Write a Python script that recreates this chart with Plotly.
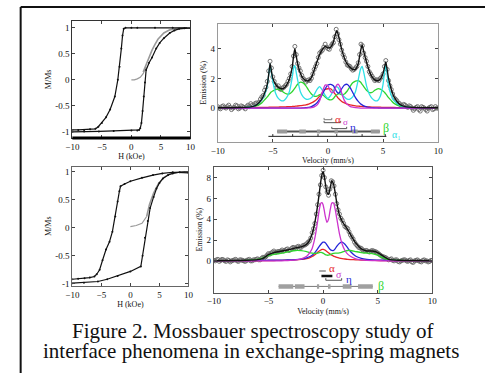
import plotly.graph_objects as go

# ---------------- hysteresis loops (top-left) ----------------
tl_desc_H = [10, 7, 4, 1, 0, -1, -1.3, -1.5, -1.7, -2.0, -2.3, -2.8, -3.6, -4.3, -5.0, -5.6, -6.1, -7, -8, -9, -10]
tl_desc_M = [1.0, 1.0, 1.0, 1.0, 1.0, 1.0, 0.98, 0.85, 0.6, 0.25, 0.0, -0.32, -0.57, -0.72, -0.83, -0.9, -0.94, -0.95, -0.96, -0.96, -0.96]
tl_asc_H = [-10, -8, -5.5, -3, 0, 1.0, 1.3, 1.5, 1.7, 1.9, 2.1, 2.3, 2.5, 3.0, 3.5, 4.2, 4.8, 5.5, 6.5, 7.3, 8.1, 9, 10]
tl_asc_M = [-1.0, -0.99, -0.99, -0.98, -0.97, -0.97, -0.96, -0.93, -0.83, -0.6, -0.32, -0.05, 0.19, 0.33, 0.43, 0.6, 0.71, 0.8, 0.9, 0.95, 0.98, 0.99, 1.0]
tl_ret_H = [2.0, 2.5, 3.0, 3.5, 4.0, 4.5, 5.5, 6.5, 8, 10]
tl_ret_M = [0.15, 0.3, 0.45, 0.57, 0.68, 0.78, 0.9, 0.96, 0.99, 1.0]
tl_init_H = [0, 0.5, 1.0, 1.5, 2.0, 2.5]
tl_init_M = [0.0, 0.0, 0.02, 0.05, 0.12, 0.25]

# ---------------- hysteresis loops (bottom-left) ----------------
bl_desc_H = [10, 7.3, 5.5, 3.9, 2, 0, -1, -1.7, -1.9, -2.2, -2.6, -3.1, -3.6, -4.2, -4.8, -5.3, -5.8, -6.2, -7, -7.9, -9, -10]
bl_desc_M = [0.98, 0.99, 0.97, 0.94, 0.89, 0.83, 0.78, 0.74, 0.65, 0.47, 0.2, -0.07, -0.25, -0.39, -0.58, -0.75, -0.83, -0.87, -0.89, -0.9, -0.91, -0.92]
bl_asc_H = [-10, -8, -5.6, -4, -2.2, 0, 1.8, 2.1, 2.5, 3.0, 3.4, 4.0, 4.5, 5.0, 5.6, 6.5, 7.3, 8.5, 10]
bl_asc_M = [-0.99, -0.98, -0.96, -0.92, -0.86, -0.78, -0.69, -0.5, -0.18, 0.12, 0.35, 0.55, 0.7, 0.8, 0.88, 0.94, 0.97, 0.99, 1.0]
bl_ret_H = [2.8, 3.3, 4.0, 4.8, 5.8, 7.0, 8.5, 10]
bl_ret_M = [0.2, 0.42, 0.62, 0.78, 0.9, 0.97, 1.0, 1.0]
bl_init_H = [0, 1, 2, 2.5, 2.8]
bl_init_M = [0.02, 0.04, 0.08, 0.15, 0.2]

# ---------------- Mossbauer spectrum (top-right) ----------------
tr_v = [-10, -8, -7, -6.5, -6, -5.75, -5.5, -5.35, -5.25, -5.15, -5, -4.75, -4.5, -4.25, -4,
        -3.75, -3.5, -3.25, -3.1, -3.0, -2.9, -2.75, -2.5, -2.25, -2, -1.75, -1.5, -1.25, -1, -0.75,
        -0.5, -0.25, 0, 0.25, 0.5, 0.65, 0.8, 0.95, 1.1, 1.25, 1.5, 1.75, 2, 2.25, 2.5,
        2.75, 2.95, 3.1, 3.25, 3.5, 3.75, 4, 4.25, 4.5, 4.75, 5, 5.15, 5.25, 5.35, 5.5,
        5.75, 6, 6.5, 7, 8, 10]
tr_total = [0.02, 0.04, 0.08, 0.2, 0.6, 1.0, 1.6, 2.4, 3.0, 2.6, 2.0, 1.6, 1.4, 1.3, 1.35,
            1.55, 1.95, 2.7, 3.6, 4.0, 3.6, 3.0, 2.35, 2.0, 1.85, 1.85, 2.05, 2.55, 3.1, 3.6,
            3.95, 4.15, 4.05, 4.1, 4.45, 4.9, 5.2, 4.9, 4.4, 3.95, 3.35, 2.95, 2.75, 2.6, 2.6,
            3.0, 3.8, 4.25, 3.8, 3.1, 2.5, 2.1, 1.9, 1.85, 1.95, 2.35, 2.8, 3.1, 2.7, 2.0,
            1.25, 0.75, 0.25, 0.1, 0.04, 0.02]
tr_alpha1 = [0, 0.02, 0.08, 0.2, 0.55, 0.9, 1.5, 2.4, 2.95, 2.5, 1.8, 1.0, 0.65, 0.5, 0.5,
             0.7, 1.1, 2.0, 2.75, 2.85, 2.5, 1.9, 1.1, 0.75, 0.6, 0.6, 0.7, 0.9, 1.25, 1.45,
             1.2, 0.85, 0.65, 0.85, 1.2, 1.4, 1.45, 1.35, 1.15, 0.95, 0.75, 0.6, 0.6, 0.75, 1.1,
             1.9, 2.6, 2.8, 2.4, 1.5, 0.95, 0.65, 0.5, 0.5, 0.8, 1.6, 2.5, 2.9, 2.4, 1.5,
             0.85, 0.5, 0.2, 0.08, 0.02, 0]
tr_beta = [0, 0.02, 0.06, 0.15, 0.35, 0.55, 0.75, 0.9, 1.0, 1.08, 1.15, 1.25, 1.28, 1.2, 1.05,
           0.95, 0.95, 1.1, 1.25, 1.35, 1.45, 1.6, 1.75, 1.7, 1.5, 1.2, 0.95, 0.8, 0.8, 0.9,
           0.9, 0.75, 0.6, 0.55, 0.65, 0.8, 0.9, 0.95, 0.95, 0.9, 0.95, 1.15, 1.45, 1.7, 1.82,
           1.85, 1.75, 1.6, 1.45, 1.2, 1.05, 1.05, 1.2, 1.3, 1.28, 1.15, 1.05, 0.95, 0.85, 0.7,
           0.5, 0.32, 0.14, 0.06, 0.02, 0]
tr_eta = [0, 0, 0, 0, 0, 0, 0, 0, 0, 0, 0, 0, 0, 0, 0,
          0, 0, 0, 0, 0, 0, 0, 0, 0.01, 0.03, 0.05, 0.1, 0.2, 0.35, 0.6,
          0.95, 1.3, 1.55, 1.6, 1.5, 1.3, 1.1, 1.0, 1.1, 1.3, 1.55, 1.6, 1.4, 1.05, 0.7,
          0.45, 0.3, 0.22, 0.15, 0.08, 0.05, 0.03, 0.02, 0.01, 0, 0, 0, 0, 0, 0,
          0, 0, 0, 0, 0, 0]
tr_sigma = [0, 0, 0, 0, 0, 0, 0, 0, 0, 0, 0, 0, 0, 0, 0,
            0, 0, 0, 0, 0, 0, 0, 0, 0, 0, 0.01, 0.03, 0.08, 0.2, 0.5,
            1.1, 1.55, 1.5, 1.1, 1.05, 1.3, 1.55, 1.6, 1.4, 1.0, 0.5, 0.25, 0.12, 0.06, 0.03,
            0.01, 0, 0, 0, 0, 0, 0, 0, 0, 0, 0, 0, 0, 0, 0,
            0, 0, 0, 0, 0, 0]
tr_alpha = [0.01, 0.02, 0.03, 0.04, 0.05, 0.05, 0.05, 0.06, 0.06, 0.06, 0.06, 0.07, 0.07, 0.08, 0.08,
            0.09, 0.1, 0.11, 0.12, 0.12, 0.13, 0.14, 0.16, 0.19, 0.22, 0.27, 0.35, 0.45, 0.6, 0.8,
            1.05, 1.25, 1.3, 1.3, 1.1, 0.95, 0.8, 0.65, 0.55, 0.45, 0.35, 0.27, 0.22, 0.18, 0.15,
            0.13, 0.12, 0.11, 0.1, 0.09, 0.08, 0.07, 0.07, 0.06, 0.06, 0.05, 0.05, 0.05, 0.05, 0.05,
            0.04, 0.04, 0.03, 0.03, 0.02, 0.01]

# measured channels: -10 ... 10 mm/s in 0.125 mm/s steps
channel_v = [round(-10 + 0.125 * i, 3) for i in range(161)]
tr_data = [0.1, 0.0, -0.05, 0.1, 0.15, 0.05, 0.0, 0.1,
           0.2, 0.05, -0.1, 0.0, 0.05, 0.2, 0.15, -0.05,
           0.0, 0.15, 0.1, 0.05, -0.05, 0.1, 0.2, 0.1,
           0.3, 0.2, 0.15, 0.3, 0.35, 0.3, 0.4, 0.6,
           0.75, 0.85, 1.2, 1.4, 1.8, 2.5, 3.15, 2.7,
           2.1, 1.8, 1.55, 1.4, 1.5, 1.3, 1.25, 1.35,
           1.4, 1.5, 1.6, 1.8, 2.0, 2.3, 2.8, 3.5,
           4.15, 3.6, 3.0, 2.7, 2.5, 2.2, 2.0, 1.9,
           1.75, 1.85, 1.9, 1.85, 2.0, 2.3, 2.6, 2.8,
           3.0, 3.4, 3.7, 3.8, 3.9, 4.1, 4.3, 4.1,
           4.0, 3.95, 4.15, 4.3, 4.4, 4.8, 5.3, 5.0,
           4.6, 4.3, 3.9, 3.6, 3.4, 3.1, 2.9, 2.85,
           2.8, 2.65, 2.55, 2.6, 2.7, 2.8, 3.05, 3.6,
           4.3, 4.2, 3.7, 3.4, 3.15, 2.8, 2.45, 2.3,
           2.15, 2.0, 1.85, 1.9, 1.9, 1.85, 2.0, 2.1,
           2.3, 2.8, 3.2, 2.6, 1.85, 1.5, 1.25, 0.95,
           0.7, 0.6, 0.5, 0.35, 0.3, 0.2, 0.15, 0.25,
           0.2, 0.1, 0.05, 0.15, 0.1, 0.0, -0.15, -0.05,
           0.05, 0.1, -0.1, -0.2, 0.1, 0.05, 0.0, -0.1,
           -0.2, 0.0, 0.05, 0.1, -0.1, -0.05, 0.1, 0.0,
           0.0]

# ---------------- Mossbauer spectrum (bottom-right) ----------------
br_v = [-10, -8, -7, -6, -5.5, -5, -4.5, -4, -3.5, -3, -2.5, -2, -1.5, -1.25, -1,
        -0.75, -0.5, -0.35, -0.2, -0.1, 0, 0.1, 0.2, 0.35, 0.5, 0.65, 0.8, 0.95, 1.1, 1.25,
        1.5, 1.75, 2, 2.25, 2.5, 3, 3.5, 4, 4.5, 5, 5.5, 6, 7, 8, 10]
br_total = [0.02, 0.04, 0.06, 0.12, 0.25, 0.6, 0.8, 0.9, 1.0, 1.1, 1.25, 1.35, 1.6, 1.95, 2.6,
            3.7, 5.3, 6.5, 7.7, 8.3, 8.6, 8.2, 7.5, 6.6, 6.4, 7.0, 7.7, 7.4, 6.6, 5.6,
            4.4, 3.8, 3.4, 3.0, 2.55, 1.7, 1.15, 0.95, 0.95, 0.8, 0.45, 0.15, 0.06, 0.04, 0.02]
br_sigma = [0, 0, 0, 0, 0, 0, 0, 0, 0.02, 0.05, 0.1, 0.2, 0.45, 0.75, 1.2,
            2.2, 3.8, 4.9, 5.55, 5.6, 5.4, 4.9, 4.3, 3.7, 4.0, 4.9, 5.55, 5.55, 5.0, 4.1,
            2.6, 1.6, 1.0, 0.65, 0.45, 0.2, 0.1, 0.05, 0.03, 0.02, 0.01, 0, 0, 0, 0]
br_eta = [0, 0.02, 0.03, 0.05, 0.05, 0.06, 0.06, 0.07, 0.08, 0.1, 0.12, 0.18, 0.3, 0.4, 0.55,
          0.8, 1.15, 1.4, 1.6, 1.72, 1.8, 1.8, 1.75, 1.55, 1.3, 1.1, 1.0, 1.0, 1.15, 1.4,
          1.7, 1.8, 1.6, 1.25, 0.9, 0.45, 0.25, 0.15, 0.1, 0.08, 0.06, 0.05, 0.03, 0.02, 0]
br_alpha = [0.01, 0.02, 0.02, 0.03, 0.03, 0.04, 0.04, 0.05, 0.06, 0.08, 0.1, 0.14, 0.22, 0.3, 0.42,
            0.6, 0.82, 0.95, 1.05, 1.1, 1.1, 1.08, 1.02, 0.9, 0.78, 0.65, 0.55, 0.46, 0.4, 0.34,
            0.27, 0.22, 0.18, 0.15, 0.13, 0.1, 0.08, 0.06, 0.05, 0.04, 0.04, 0.03, 0.02, 0.02, 0.01]
br_beta = [0.0, 0.02, 0.05, 0.15, 0.3, 0.5, 0.62, 0.7, 0.8, 0.92, 1.0, 0.98, 0.88, 0.8, 0.75,
           0.72, 0.75, 0.8, 0.82, 0.8, 0.75, 0.68, 0.6, 0.55, 0.55, 0.6, 0.68, 0.72, 0.75, 0.75,
           0.78, 0.85, 0.95, 1.0, 1.0, 0.9, 0.8, 0.75, 0.7, 0.55, 0.3, 0.12, 0.04, 0.02, 0]
br_data = [0.05, 0.0, 0.1, 0.15, -0.05, 0.05, 0.15, 0.1,
           0.0, -0.05, 0.1, 0.05, -0.1, 0.0, 0.05, 0.1,
           0.15, 0.0, -0.05, 0.1, 0.1, 0.05, 0.0, -0.05,
           0.05, 0.1, 0.15, 0.0, 0.0, 0.1, 0.1, 0.15,
           0.2, 0.1, 0.1, 0.25, 0.35, 0.3, 0.4, 0.55,
           0.7, 0.65, 0.75, 0.85, 0.95, 0.8, 0.85, 0.9,
           0.9, 0.95, 1.05, 0.95, 1.0, 1.1, 1.15, 1.0,
           1.05, 1.2, 1.3, 1.25, 1.2, 1.35, 1.4, 1.3,
           1.3, 1.45, 1.5, 1.55, 1.65, 1.8, 1.9, 2.2,
           2.7, 3.1, 3.6, 4.5, 5.4, 6.4, 7.3, 8.2,
           8.7, 8.0, 7.1, 6.6, 6.3, 6.9, 7.7, 7.6,
           7.2, 6.4, 5.5, 4.9, 4.5, 4.1, 3.9, 3.6,
           3.3, 3.2, 3.1, 2.8, 2.5, 2.3, 2.1, 1.8,
           1.6, 1.45, 1.3, 1.25, 1.2, 1.05, 0.95, 1.0,
           1.0, 0.9, 0.85, 0.95, 1.0, 0.95, 0.9, 0.85,
           0.75, 0.65, 0.55, 0.45, 0.4, 0.35, 0.3, 0.2,
           0.1, 0.15, 0.2, 0.05, 0.0, 0.1, 0.1, -0.05,
           -0.1, 0.0, 0.05, 0.1, 0.1, 0.0, -0.05, 0.05,
           0.1, -0.1, -0.15, 0.0, 0.05, 0.1, 0.0, -0.05,
           -0.1, 0.05, 0.1, 0.0, 0.0, -0.1, -0.05, 0.05,
           0.05]

# stick-diagram extents (velocity) and levels (emission units)
tr_alpha_bar = [-0.35, 0.35]; tr_alpha_lvl = -0.78
tr_sigma_bar = [-0.35, 1.15]; tr_sigma_lvl = -0.98
tr_eta_bar = [0.35, 1.7]; tr_eta_lvl = -1.38
tr_beta_bar = [-4.6, 4.7]; tr_beta_lvl = -1.58
tr_beta_blocks = [[-4.6, -3.7], [-2.6, -2.0], [-1.0, -0.7], [0.6, 0.9], [2.2, 2.7], [3.9, 4.7]]
tr_a1_bar = [-5.4, 5.3]; tr_a1_lvl = -1.9
tr_a1_lines = [-5.0, -3.2, -0.9, 0.8, 3.1, 5.2]

br_alpha_bar = [-0.35, 0.25]; br_alpha_lvl = -0.96
br_sigma_bar = [-0.15, 0.85]; br_sigma_lvl = -1.45
br_eta_bar = [0.25, 1.7]; br_eta_lvl = -1.86
br_beta_bar = [-4.07, 4.55]; br_beta_lvl = -2.45
br_beta_blocks = [[-4.07, -2.73], [-2.58, -1.7], [-0.56, -0.36], [0.45, 0.68], [1.8, 2.6], [3.2, 4.55]]

assert len(tr_v) == len(tr_total) == len(tr_alpha1) == len(tr_beta) == len(tr_eta) == len(tr_sigma) == len(tr_alpha)
assert len(br_v) == len(br_total) == len(br_sigma) == len(br_eta) == len(br_alpha) == len(br_beta)
assert len(channel_v) == len(tr_data) == len(br_data)

RED = "#e8262a"; MAG = "#cc33cc"; BLUE = "#2424d8"; GREEN = "#2fd62f"; CYAN = "#2fe0e6"
SERIF = "Liberation Serif"

fig = go.Figure()

def line(x, y, ax, color, w=1.2):
    fig.add_trace(go.Scatter(x=x, y=y, mode="lines", xaxis="x" + ax, yaxis="y" + ax,
                             line=dict(color=color, width=w, shape="spline", smoothing=0.6),
                             showlegend=False, hoverinfo="skip"))

def loop(x, y, ax, color, w=1.2, marker=True):
    fig.add_trace(go.Scatter(x=x, y=y, mode="lines+markers" if marker else "lines",
                             xaxis="x" + ax, yaxis="y" + ax,
                             line=dict(color=color, width=w),
                             marker=dict(size=2, color=color),
                             showlegend=False, hoverinfo="skip"))

# hysteresis loops
for ax, d in (("", (tl_desc_H, tl_desc_M, tl_asc_H, tl_asc_M, tl_ret_H, tl_ret_M, tl_init_H, tl_init_M)),
              ("3", (bl_desc_H, bl_desc_M, bl_asc_H, bl_asc_M, bl_ret_H, bl_ret_M, bl_init_H, bl_init_M))):
    loop(d[4], d[5], ax, "#9a9a9a", 1.6, False)
    loop(d[6], d[7], ax, "#9a9a9a", 1.2, False)
    loop(d[0], d[1], ax, "#111111", 1.2)
    loop(d[2], d[3], ax, "#111111", 1.2)

# spectra
def spectrum(ax, v, tot, comps, data):
    fig.add_trace(go.Scatter(x=channel_v, y=data, mode="markers", xaxis="x" + ax, yaxis="y" + ax,
                             marker=dict(symbol="circle-open", size=4, color="#666666", line=dict(width=0.9)),
                             showlegend=False, hoverinfo="skip"))
    for ys, c in comps:
        line(v, ys, ax, c, 1.3)
    line(v, tot, ax, "#111111", 1.4)

spectrum("2", tr_v, tr_total, [(tr_alpha, RED), (tr_beta, GREEN), (tr_alpha1, CYAN), (tr_eta, BLUE), (tr_sigma, MAG)], tr_data)
spectrum("4", br_v, br_total, [(br_alpha, RED), (br_eta, BLUE), (br_beta, GREEN), (br_sigma, MAG)], br_data)

def bar(ax, ext, lvl, color, w):
    fig.add_trace(go.Scatter(x=ext, y=[lvl, lvl], mode="lines", xaxis="x" + ax, yaxis="y" + ax,
                             line=dict(color=color, width=w), showlegend=False, hoverinfo="skip"))

def bracket(ax, ext, lvl, color, w=1, tick=0.12):
    fig.add_trace(go.Scatter(x=[ext[0], ext[0], ext[1], ext[1]], y=[lvl + tick, lvl, lvl, lvl + tick],
                             mode="lines", xaxis="x" + ax, yaxis="y" + ax,
                             line=dict(color=color, width=w), showlegend=False, hoverinfo="skip"))

# top-right sticks
bracket("2", tr_alpha_bar, tr_alpha_lvl, "#777777")
bracket("2", tr_sigma_bar, tr_sigma_lvl, "#555555")
bracket("2", tr_eta_bar, tr_eta_lvl, "#555555")
bar("2", tr_beta_bar, tr_beta_lvl, "#555555", 2)
for b in tr_beta_blocks:
    bar("2", b, tr_beta_lvl, "#9a9a9a", 4)
bar("2", tr_a1_bar, tr_a1_lvl, "#222222", 1)
for p in tr_a1_lines:
    fig.add_trace(go.Scatter(x=[p, p], y=[tr_a1_lvl, tr_a1_lvl + 0.15], mode="lines", xaxis="x2", yaxis="y2",
                             line=dict(color="#222222", width=1), showlegend=False, hoverinfo="skip"))
# bottom-right sticks
bar("4", br_alpha_bar, br_alpha_lvl, "#aaaaaa", 2)
bar("4", br_sigma_bar, br_sigma_lvl, "#111111", 2.5)
bracket("4", br_eta_bar, br_eta_lvl, "#555555", 1, 0.2)
bar("4", br_beta_bar, br_beta_lvl, "#777777", 1)
for b in br_beta_blocks:
    bar("4", b, br_beta_lvl, "#a0a0a0", 4.5)

ann = []
def lab(ax, x, y, t, c, s=11):
    ann.append(dict(x=x, y=y, xref="x" + ax, yref="y" + ax, text=t, showarrow=False,
                    font=dict(family=SERIF, size=s, color=c), xanchor="left", yanchor="middle"))
lab("2", 0.5, -0.72, "α", RED)
lab("2", 1.15, -0.92, "σ", MAG, 9)
lab("2", 1.85, -1.3, "η", BLUE)
lab("2", 4.85, -1.35, "β", GREEN, 12)
lab("2", 5.6, -1.8, "α₁", CYAN, 10)
lab("4", 0.35, -0.72, "α", RED)
lab("4", 1.0, -1.35, "σ", MAG, 10)
lab("4", 1.9, -1.76, "η", BLUE)
lab("4", 4.8, -2.4, "β", GREEN, 12)

ann.append(dict(x=0.515, y=1 - 334 / 376, xref="paper", yref="paper", showarrow=False,
                text="Figure 2. Mossbauer spectroscopy study of",
                font=dict(family=SERIF, size=21, color="#111111"), xanchor="center", yanchor="middle"))
ann.append(dict(x=0.511, y=1 - 354 / 376, xref="paper", yref="paper", showarrow=False,
                text="interface phenomena in exchange-spring magnets",
                font=dict(family=SERIF, size=21, color="#111111"), xanchor="center", yanchor="middle"))

tickfont = dict(family=SERIF, size=9, color="#111111")
titlefont = dict(family=SERIF, size=8, color="#111111")

def xax(dom, anchor, title, lc="#555555"):
    return dict(domain=dom, anchor=anchor, range=[-10, 10], tickvals=[-10, -5, 0, 5, 10],
                ticks="inside", ticklen=3, tickcolor="#444", showgrid=False, zeroline=False,
                showline=True, linecolor=lc, linewidth=1, mirror="ticks",
                tickfont=tickfont, title=dict(text=title, font=titlefont, standoff=2))

def yax(dom, anchor, rng, vals, texts, title, lc="#555555"):
    return dict(domain=dom, anchor=anchor, range=rng, tickvals=vals, ticktext=texts,
                ticks="inside", ticklen=3, tickcolor="#444", showgrid=False, zeroline=False,
                showline=True, linecolor=lc, linewidth=1, mirror="ticks",
                tickfont=tickfont, title=dict(text=title, font=titlefont, standoff=2))

mvals = [-1, -0.5, 0, 0.5, 1]
mtext = ["-1", "-0.5", "0", "0.5", "1"]
fig.update_layout(
    width=490, height=376, margin=dict(l=0, r=0, t=0, b=0),
    paper_bgcolor="white", plot_bgcolor="white",
    xaxis=xax([0.1367, 0.3837], "y", "H (kOe)", "#333333"),
    yaxis=yax([0.6303, 0.9441], "x", [-1.114, 1.133], mvals, mtext, "M/Ms", "#333333"),
    xaxis2=xax([0.4408, 0.9020], "y2", "Velocity (mm/s)", "#9a9a9a"),
    yaxis2=yax([0.6197, 0.9362], "x2", [-2.27, 5.67], [0, 2, 4], ["0", "2", "4"], "Emission (%)", "#9a9a9a"),
    xaxis3=xax([0.1367, 0.3796], "y3", "H (kOe)", "#666666"),
    yaxis3=yax([0.2340, 0.5532], "x3", [-1.035, 1.09], mvals, mtext, "M/Ms", "#666666"),
    xaxis4=xax([0.4327, 0.8898], "y4", "Velocity (mm/s)", "#555555"),
    yaxis4=yax([0.2154, 0.5532], "x4", [-3.05, 9.05], [0, 2, 4, 6, 8], ["0", "2", "4", "6", "8"], "Emission (%)", "#555555"),
    annotations=ann,
    shapes=[
        dict(type="line", xref="paper", yref="paper", x0=14 / 490, x1=1.0, y0=1 - 7 / 376, y1=1 - 7 / 376,
             line=dict(color="#111111", width=2)),
        dict(type="line", xref="paper", yref="paper", x0=14 / 490, x1=14 / 490, y0=0, y1=1 - 7 / 376,
             line=dict(color="#111111", width=2)),
        dict(type="line", xref="x domain", yref="y domain", x0=0, x1=1, y0=0, y1=0,
             line=dict(color="#000000", width=3)),
    ],
)

fig.write_html("out.html", config={"displayModeBar": False},
               post_script="document.body.style.margin='0';document.body.style.overflow='hidden';")
